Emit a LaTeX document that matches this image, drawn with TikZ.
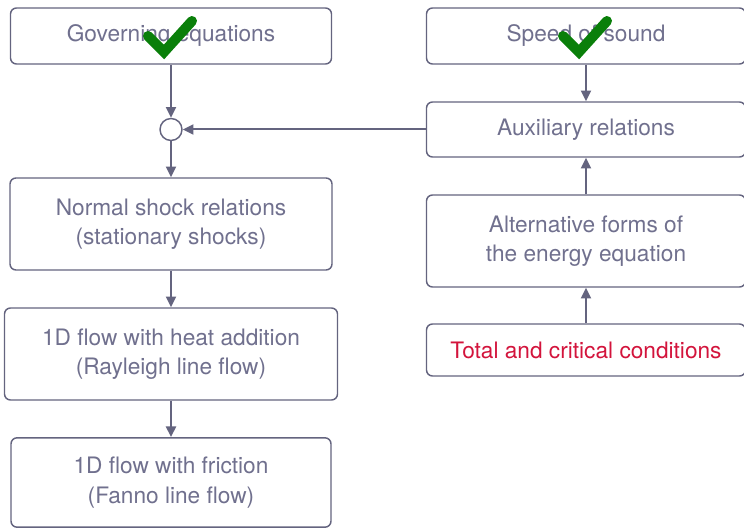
\documentclass[tikz,border=0pt]{standalone}
\usepackage{fontspec}
\setmainfont{TeX Gyre Heros}
\usetikzlibrary{arrows.meta}

\definecolor{boxline}{HTML}{64647F}
\definecolor{boxtext}{HTML}{70708E}
\definecolor{hotred}{HTML}{D3143C}
\definecolor{tickgreen}{HTML}{0A7F0A}

\tikzset{every picture/.style={line width=0.75pt}}
\tikzset{
	flowbox/.style={draw=boxline, line width=1.1pt, rounded corners=4.5pt, fill=white, text=boxtext, align=center, font=\fontsize{17}{22}\selectfont, inner sep=0pt},
	junc/.style={draw=boxline, line width=1.1pt, circle, fill=white, minimum size=16.5pt, inner sep=0pt},
	flowarrow/.style={draw=boxline, line width=1.5pt, -{Triangle[length=8pt,width=7.5pt]}},
	tick/.style={draw=tickgreen, line width=7.5pt, line cap=round, line join=miter}
}

\begin{document}
\begin{tikzpicture}[x=0.75pt,y=0.75pt,yscale=-1,xscale=1]
	\useasboundingbox (0,0) rectangle (744,528);
	
	% Text Node
	\node [flowbox, minimum width=240.75pt, minimum height=42pt] (gov) at (171,36) {Governing equations};
	% Text Node
	\node [flowbox, minimum width=239.25pt, minimum height=42pt] (speed) at (586,36) {Speed of sound};
	% Text Node
	\node [flowbox, minimum width=239.25pt, minimum height=41.25pt] (aux) at (586,129.5) {Auxiliary relations};
	% Text Node
	\node [junc] (sum) at (171,129.5) {};
	% Text Node
	\node [flowbox, minimum width=241.5pt, minimum height=69pt] (normal) at (171,224) {Normal shock relations\\(stationary shocks)};
	% Text Node
	\node [flowbox, minimum width=239.25pt, minimum height=69pt] (alt) at (586,241) {Alternative forms of\\the energy equation};
	% Text Node
	\node [flowbox, minimum width=239.25pt, minimum height=39pt, text=hotred] (total) at (586,350) {Total and critical conditions};
	% Text Node
	\node [flowbox, minimum width=249.75pt, minimum height=69pt] (rayleigh) at (171,354) {1D flow with heat addition\\(Rayleigh line flow)};
	% Text Node
	\node [flowbox, minimum width=240pt, minimum height=67pt] (fanno) at (171,482.5) {1D flow with friction\\(Fanno line flow)};
	
	%Straight Lines
	\draw [flowarrow] (gov) -- (sum);
	%Straight Lines
	\draw [flowarrow] (aux) -- (sum);
	%Straight Lines
	\draw [flowarrow] (sum) -- (normal);
	%Straight Lines
	\draw [flowarrow] (normal) -- (rayleigh);
	%Straight Lines
	\draw [flowarrow] (rayleigh) -- (fanno);
	%Straight Lines
	\draw [flowarrow] (speed) -- (aux);
	%Straight Lines
	\draw [flowarrow] (alt) -- (aux);
	%Straight Lines
	\draw [flowarrow] (total) -- (alt);
	
	%Check marks
	\draw [tick] (148,36) -- (164,52) -- (192,21);
	\draw [tick] (563,36) -- (579,52) -- (607,21);
	
\end{tikzpicture}
\end{document}
